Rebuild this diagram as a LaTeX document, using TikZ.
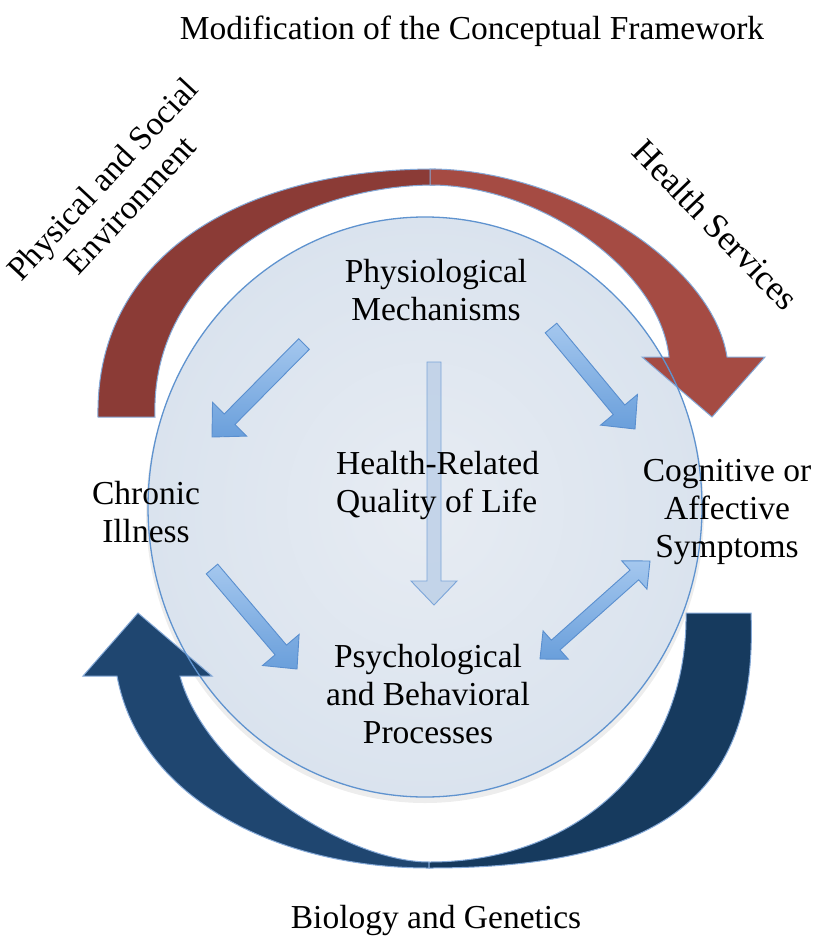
\documentclass[tikz,border=0pt]{standalone}
\usepackage{fontspec}
\setmainfont{Liberation Serif}
\usetikzlibrary{calc}
\definecolor{redL}{HTML}{8B3B36}
\definecolor{redR}{HTML}{A54B43}
\definecolor{blueL}{HTML}{1F4670}
\definecolor{blueR}{HTML}{163A5E}
\definecolor{ringin}{HTML}{E7ECF3}
\definecolor{ringout}{HTML}{DAE3EE}
\definecolor{ringline}{HTML}{5F93CF}
\definecolor{arrtop}{HTML}{A4C7EE}
\definecolor{arrbot}{HTML}{6A9FDB}
\definecolor{arrline}{HTML}{5A8FCF}
\definecolor{glow}{HTML}{86AAD8}
\definecolor{pale}{HTML}{B9CDE6}
\newcommand{\blkarrow}[6]{% style, tail, tip, shaft half, head half, head length
  \coordinate (#2-#3-h) at ($(#3)!#6!(#2)$);
  \draw[#1] (#2) -- ($(#2)!#4!90:(#3)$) -- ($(#2-#3-h)!#4!90:(#3)$)
    -- ($(#2-#3-h)!#5!90:(#3)$) -- (#3) -- ($(#2-#3-h)!#5!-90:(#3)$)
    -- ($(#2-#3-h)!#4!-90:(#3)$) -- ($(#2)!#4!-90:(#3)$) -- cycle;}
\newcommand{\dblarrow}[6]{% style, end A, end B, shaft half, head half, head length
  \coordinate (#2-#3-ha) at ($(#2)!#6!(#3)$);
  \coordinate (#2-#3-hb) at ($(#3)!#6!(#2)$);
  \draw[#1] (#2) -- ($(#2-#3-ha)!#5!90:(#3)$) -- ($(#2-#3-ha)!#4!90:(#3)$)
    -- ($(#2-#3-hb)!#4!-90:(#2)$) -- ($(#2-#3-hb)!#5!-90:(#2)$) -- (#3)
    -- ($(#2-#3-hb)!#5!90:(#2)$) -- ($(#2-#3-hb)!#4!90:(#2)$)
    -- ($(#2-#3-ha)!#4!-90:(#3)$) -- ($(#2-#3-ha)!#5!-90:(#3)$) -- cycle;}
\begin{document}
\begin{tikzpicture}[x=1pt,y=-1pt,
  lbl/.style={font=\fontsize{33.5}{38}\selectfont, align=center, inner sep=0pt},
  bigarrow/.style={draw=glow, line width=1pt, line join=miter},
  smallarrow/.style={top color=arrtop, bottom color=arrbot, draw=arrline, line width=0.9pt, line join=miter},
  palearrow/.style={fill=pale, fill opacity=0.75, draw=arrline!80, line width=0.9pt, line join=miter}]
\useasboundingbox (0,0) rectangle (820,941);
\fill[white] (0,0) rectangle (820,941);

% circle body
\fill[black, opacity=0.07] (425,512) ellipse [x radius=279pt, y radius=291pt];
\shade[inner color=ringin, outer color=ringout] (425,507) ellipse [x radius=277pt, y radius=290pt];

% red curved arrow (top)
\path[fill=redL, bigarrow] (98,417) .. controls (95,250) and (250,169) .. (435,169)
  -- (435,185) .. controls (300,185) and (150,270) .. (155,417) -- cycle;
\path[fill=redR, bigarrow] (430,169) .. controls (560,169) and (712,260) .. (727,357)
  -- (765,357) -- (712,417) -- (642,357) -- (669,357)
  .. controls (660,270) and (540,185) .. (430,185) -- cycle;

% blue curved arrow (bottom)
\path[fill=blueL, bigarrow] (117,676) .. controls (140,800) and (280,868) .. (429,868)
  -- (429,862) .. controls (345,862) and (205,770) .. (180,676)
  -- (212,676) -- (138,613) -- (83,676) -- cycle;
\path[fill=blueR, bigarrow] (751,613) .. controls (758,790) and (670,868) .. (429,868)
  -- (429,862) .. controls (580,862) and (688,760) .. (686,613) -- cycle;

% circle outline
\draw[ringline, line width=1.3pt] (425,507) ellipse [x radius=277pt, y radius=290pt];

% text nodes
\node[lbl, anchor=base] (title) at (472,40) {Modification of the Conceptual Framework};
\node[lbl, anchor=base] (physio) at (436,320) {Physiological\\Mechanisms};
\node[lbl, anchor=base] (chronic) at (146,542) {Chronic\\Illness};
\node[lbl, anchor=base] (cognitive) at (727,557) {Cognitive or\\Affective\\Symptoms};
\node[lbl, anchor=base] (psych) at (428,743) {Psychological\\and Behavioral\\Processes};
\node[lbl, anchor=base] (biology) at (436,928) {Biology and Genetics};
\node[lbl, rotate=47] (envlabel) at (116,192) {Physical and Social\\Environment};
\node[lbl, rotate=-46, font=\fontsize{35}{38}\selectfont] (servlabel) at (716,225) {Health Services};

% inner arrows
\coordinate (eS) at (434,362);
\coordinate (eT) at (434,605);
\blkarrow{palearrow}{eS}{eT}{7pt}{23pt}{24pt}
\node[lbl, anchor=base west, align=left] (hrqol) at (336,512) {Health-Related\\Quality of Life};

\coordinate (aS) at (304,344);
\coordinate (aT) at (212,437);
\blkarrow{smallarrow}{aS}{aT}{7.5pt}{24pt}{25pt}
\coordinate (bS) at (551,328);
\coordinate (bT) at (635,429);
\blkarrow{smallarrow}{bS}{bT}{7.5pt}{24pt}{25pt}
\coordinate (cS) at (212,569);
\coordinate (cT) at (297,669);
\blkarrow{smallarrow}{cS}{cT}{7.5pt}{24pt}{25pt}
\coordinate (dA) at (540,659);
\coordinate (dB) at (650,561);
\dblarrow{smallarrow}{dA}{dB}{6.5pt}{19pt}{21pt}
\end{tikzpicture}
\end{document}
